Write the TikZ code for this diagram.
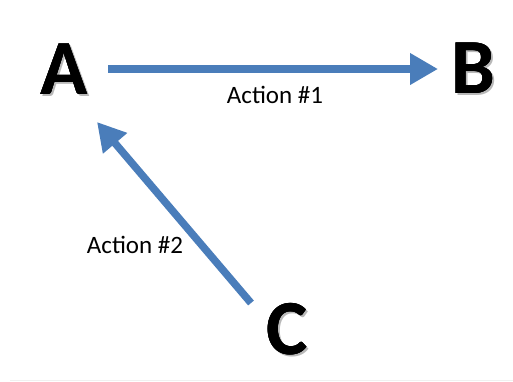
\documentclass[tikz,border=0pt]{standalone}
\usepackage{fontspec}
\setmainfont{Carlito}
\usepackage{pdfrender}
\usetikzlibrary{arrows.meta}
\definecolor{arrowblue}{HTML}{4A7DBA}
\definecolor{shadowgray}{gray}{0.72}
\newcommand{\outl}[1]{\rlap{\hspace{2pt}\raisebox{-2pt}{\textcolor{shadowgray}{#1}}}\textpdfrender{TextRenderingMode=FillStroke,LineWidth=2.4,StrokeColor=black,FillColor=black}{\rlap{#1}}\textpdfrender{TextRenderingMode=FillStroke,LineWidth=1.2,StrokeColor=white,FillColor=black}{\rlap{#1}}\textpdfrender{TextRenderingMode=Fill,FillColor=black}{#1}}
\tikzset{
  bigletter/.style={font=\fontsize{78}{80}\bfseries\selectfont, inner sep=0pt, anchor=base},
  label/.style={font=\fontsize{25}{27}\selectfont, inner sep=0pt, anchor=center},
  bluearrow/.style={draw=arrowblue, line width=7.5pt, -{Triangle[length=28pt,width=30pt]}}
}
\begin{document}
\begin{tikzpicture}[x=1pt,y=-1pt]
\useasboundingbox (0,0) rectangle (513,381);
% letters
\node[bigletter] (A) at (64,94) {\outl{A}};
\node[bigletter] (B) at (473,93) {\outl{B}};
\node[bigletter] (C) at (287,354) {\outl{C}};
% arrows
\coordinate (a1s) at (108,69);
\coordinate (a1e) at (438,69);
\coordinate (a2s) at (251,303);
\coordinate (a2e) at (97,122);
\draw[bluearrow] (a1s) -- (a1e);
\draw[bluearrow] (a2s) -- (a2e);
% labels
\node[label] (l1) at (275,95) {Action \#1};
\node[label] (l2) at (135,245) {Action \#2};
% faint bottom rule
\draw[gray!12, line width=1pt] (10,380) -- (513,380);
\end{tikzpicture}
\end{document}
